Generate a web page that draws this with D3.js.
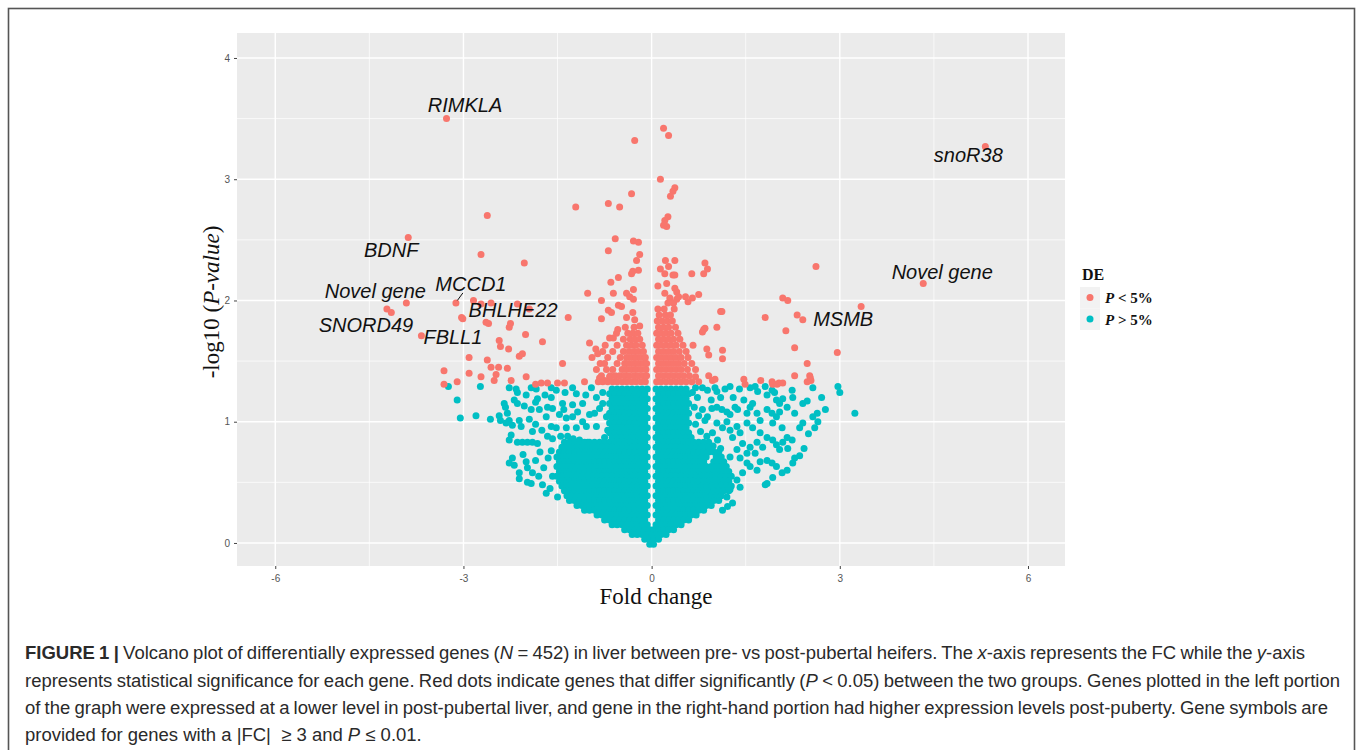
<!DOCTYPE html>
<html>
<head>
<meta charset="utf-8">
<script src="https://cdn.jsdelivr.net/npm/d3@7/dist/d3.min.js"></script>
<style>
  body { margin: 0; background: #fff; }
  svg { display: block; }
</style>
</head>
<body>
<svg id="chart" width="1357" height="750"></svg>
<script>
// ---- data (fold change, -log10 p) ----
const xTicks = [-6, -3, 0, 3, 6];
const yTicks = [0, 1, 2, 3, 4];
const legendLabels = ['P < 5%', 'P > 5%'];

// labelled genes
const geneNames = ['RIMKLA', 'snoR38', 'BDNF', 'Novel gene', 'SNORD49', 'FBLL1', 'MCCD1', 'BHLHE22', 'Novel gene', 'MSMB'];
const geneFC    = [-3.27, 5.32, -3.88, -3.91, -4.22, -3.67, -3.12, -3.03, 4.33, 3.34];
const geneLogP  = [3.50, 3.27, 2.52, 1.98, 1.93, 1.71, 1.98, 1.86, 2.14, 1.95];

// significant genes, scattered
const redSparse = [
  [0.19,3.42],[0.27,3.36],[-0.27,3.32],[0.14,3.00],[0.37,2.93],[0.34,2.90],[0.30,2.86],[-1.21,2.77],[-0.69,2.80],[-0.51,2.77],
  [-0.32,2.88],[0.26,2.69],[0.21,2.66],[0.24,2.61],[0.19,2.62],[-0.58,2.51],[-0.29,2.49],[-0.21,2.48],[-0.69,2.41],[-0.19,2.38],
  [-0.24,2.33],[0.22,2.33],[0.37,2.33],[0.27,2.28],[0.14,2.26],[-0.21,2.25],[-0.32,2.22],[-0.30,2.24],[0.21,2.22],[0.34,2.21],
  [0.37,2.21],[0.64,2.22],[-0.53,2.19],[-0.65,2.15],[-1.02,2.06],[-0.61,2.06],[-0.80,2.00],[-0.40,2.06],[-0.35,2.03],[-0.29,2.09],
  [-0.29,2.01],[0.10,2.12],[0.24,2.14],[0.21,2.06],[0.37,2.10],[0.40,2.07],[0.29,2.02],[0.26,1.98],[0.35,1.98],[0.40,2.01],
  [0.43,2.03],[0.54,2.03],[0.58,1.99],[0.65,2.02],[0.75,2.05],[1.10,1.91],[-1.33,1.86],[-0.80,1.85],[-0.69,1.92],[-0.64,1.90],
  [-0.53,1.96],[-0.48,1.95],[-0.40,1.86],[-0.30,1.90],[-0.27,1.84],[-0.19,1.79],[-0.54,1.76],[0.85,1.77],[0.81,1.74],[-0.99,1.65],
  [-1.74,1.66],[-0.89,1.60],[-0.86,1.56],[-0.78,1.58],[-0.67,1.69],[-0.61,1.69],[-1.42,1.48],[-1.07,1.33],[-0.56,1.73],
  [-2.62,2.70],[-2.72,2.38],[-2.03,2.31],[-2.01,1.72],[-2.27,1.78],[-2.25,1.81],[-2.60,1.81],[-2.64,1.82],[-2.43,1.67],[-2.41,1.62],
  [-2.28,1.60],[-2.91,1.53],[-2.62,1.51],[-2.56,1.45],[-2.44,1.45],[-2.30,1.44],[-2.11,1.54],[-2.06,1.56],[-2.91,1.40],[-3.31,1.42],
  [-2.84,2.00],[-2.72,1.97],[-2.56,1.98],[-2.14,1.97],[-1.95,1.93],[-3.31,1.31],[-3.10,1.33],[-2.72,1.37],[-2.51,1.34],[-2.48,1.39],
  [-2.24,1.34],[-2.00,1.37],[-1.85,1.31],[-1.76,1.32],[-1.66,1.32],[-1.50,1.32],[-1.39,1.32],[-0.83,1.36],[-0.75,1.34],[-0.67,1.37],
  [-4.15,1.90],[-3.01,1.85],
  [2.62,2.28],[2.09,2.02],[2.17,2.00],[1.81,1.86],[2.32,1.88],[2.41,1.84],[2.14,1.75],[2.28,1.61],[2.96,1.57],[2.48,1.48],
  [2.52,1.38],[2.54,1.34],[2.48,1.33],[2.28,1.38],[1.92,1.33],[2.03,1.32],[2.09,1.32],[1.74,1.34],[1.47,1.35],[0.91,1.38],
  [1.01,1.35],[0.85,2.31],[0.83,2.22],[0.89,2.26],[1.12,1.91],[1.04,1.78],[0.83,1.76],[0.88,1.60],[0.91,1.55],[1.13,1.59],
  [1.13,1.52],[0.70,1.37],[0.97,1.34],[1.49,1.31],[1.93,1.31],[2.00,1.31],[2.53,1.36]
];

// significant genes, dense clusters near FC = 0 (row: -log10 p, then fold changes)
const redRowsLeft = [
  [1.33,-0.85,-0.78,-0.70,-0.62,-0.55,-0.47,-0.40,-0.32,-0.25,-0.17,-0.10],
  [1.38,-0.80,-0.66,-0.58,-0.51,-0.43,-0.36,-0.28,-0.21,-0.13,-0.08],
  [1.43,-0.88,-0.72,-0.62,-0.47,-0.40,-0.32,-0.25,-0.17,-0.09],
  [1.48,-0.82,-0.75,-0.55,-0.43,-0.36,-0.28,-0.21,-0.13,-0.08],
  [1.53,-0.95,-0.70,-0.50,-0.40,-0.32,-0.25,-0.17,-0.10],
  [1.58,-0.62,-0.45,-0.36,-0.28,-0.21,-0.13],
  [1.63,-0.74,-0.55,-0.40,-0.32,-0.25,-0.15],
  [1.68,-0.45,-0.34,-0.27,-0.19],
  [1.73,-0.38,-0.30,-0.22],
  [1.78,-0.42,-0.28]
];
const redRowsRight = [
  [1.33,0.08,0.15,0.23,0.31,0.39,0.47,0.55,0.64,0.75],
  [1.38,0.11,0.19,0.27,0.35,0.43,0.51,0.60],
  [1.43,0.08,0.15,0.23,0.31,0.39,0.47,0.57,0.70],
  [1.48,0.11,0.19,0.27,0.35,0.43,0.52,0.64],
  [1.53,0.08,0.15,0.23,0.31,0.39,0.47,0.58],
  [1.58,0.11,0.19,0.27,0.35,0.44,0.55],
  [1.63,0.08,0.15,0.23,0.31,0.39,0.50,0.66],
  [1.68,0.11,0.19,0.27,0.35,0.45],
  [1.73,0.08,0.15,0.23,0.31,0.42],
  [1.78,0.11,0.19,0.27,0.38],
  [1.83,0.09,0.17,0.25,0.33],
  [1.88,0.12,0.22,0.30],
  [1.93,0.10,0.20,0.36]
];

// non-significant genes, scattered
const tealSparse = [
  [-3.24,1.29],[-3.10,1.18],[-3.05,1.03],[-2.80,1.05],[-2.57,1.02],[-2.73,1.29],[-2.43,1.05],[-2.41,1.01],[-2.35,1.15],[-2.33,1.12],
  [-2.27,1.28],[-2.16,1.27],[-2.14,1.24],[-2.19,1.18],[-2.14,1.15],[-2.03,1.13],[-1.92,1.10],[-2.30,1.07],[-2.27,1.01],[-2.32,0.99],
  [-2.22,0.97],[-2.11,1.01],[-2.08,0.96],[-2.24,0.89],[-2.27,0.85],[-2.14,0.83],[-2.06,0.83],[-1.98,0.83],[-1.90,0.83],[-1.82,0.82],
  [-2.22,0.70],[-2.27,0.66],[-2.19,0.64],[-2.00,0.67],[-1.98,0.62],[-2.11,0.58],[-2.11,0.53],[-1.98,0.50],[-1.92,0.49],[-1.90,0.58],
  [-1.74,0.48],[-1.68,0.41],[-1.50,0.38],[-1.85,1.16],[-1.82,1.19],[-1.79,1.10],[-1.66,1.12],[-1.58,1.11],[-1.68,1.04],[-1.92,1.28],
  [-1.84,1.27],[-1.60,1.28],[-1.52,1.26],[-1.26,1.28],[-0.96,1.28],[-1.60,1.20],[-1.42,1.15],[-1.26,1.14],[-1.10,1.15],[-1.47,1.06],
  [-1.36,1.03],[-1.26,1.04],[-1.60,0.96],[-1.52,0.95],[-1.36,0.95],[-1.20,0.95],[-1.04,0.96],[-0.88,0.96],[-0.99,1.06],[-0.91,1.07],
  [-0.83,1.11],[-0.78,1.15],[-0.88,1.20],[-0.78,1.24],[-0.72,1.04],[-0.70,0.93],[-0.75,0.87],[-1.15,0.85],[-1.02,0.83],[-0.94,0.79],
  [-1.04,0.71],[-0.96,0.74],[-0.88,0.64],
  [-1.95,1.02],[-1.85,0.98],[-1.75,0.93],[-1.66,0.88],[-1.90,0.92],[-1.58,0.86],[-1.45,0.88],[-1.34,0.88],[-1.25,0.86],[-1.40,1.10],
  [-1.18,1.08],[-1.10,1.00],[-1.05,1.22],[-1.20,1.23],[-1.38,1.24],[-1.70,1.22],[-2.00,1.22],
  [-1.80,0.55],[-1.72,0.62],[-1.65,0.70],[-1.60,0.76],[-1.85,0.68],[-1.78,0.75],[-2.05,0.73],[-1.58,0.55],[-1.62,0.45],
  [0.65,1.24],[0.73,1.20],[0.81,1.28],[0.89,1.26],[1.01,1.28],[1.04,1.25],[1.25,1.29],[0.81,1.10],[0.96,1.11],[1.04,0.99],
  [0.85,1.01],[0.89,1.04],[1.12,1.10],[1.20,1.08],[1.25,1.06],[1.33,1.12],[1.37,1.10],[1.52,1.07],[1.57,1.12],[1.61,1.15],
  [1.68,1.07],[1.73,1.01],[1.57,1.28],[1.65,1.29],[1.69,1.25],[1.81,1.29],[1.84,1.22],[1.92,1.26],[1.96,1.24],[1.99,1.18],
  [2.04,1.15],[2.09,1.19],[2.16,1.12],[2.24,1.26],[2.25,1.20],[2.41,1.15],[2.48,1.17],[2.64,1.07],[2.57,1.04],[2.28,1.07],
  [2.41,0.99],[2.36,0.95],[2.60,0.95],[2.97,1.29],[3.00,1.24],[3.24,1.07],[1.84,1.10],[1.92,1.07],[1.99,1.04],[2.04,1.08],
  [1.93,0.99],[2.08,0.95],[2.16,0.87],[2.24,0.85],[2.09,0.83],[2.17,0.78],[2.04,0.77],[2.28,0.70],[2.25,0.66],[2.16,0.60],
  [2.08,0.58],[1.93,0.54],[1.81,0.48],[1.84,0.49],[1.68,0.60],[1.57,0.63],[1.73,0.67],[1.65,0.74],[1.52,0.74],[1.84,0.68],
  [1.92,0.66],[1.99,0.63],[1.29,0.87],[1.41,0.91],[1.45,0.82],[1.36,0.77],[1.25,0.71],[1.41,0.70],[1.52,0.66],[1.45,0.58],
  [1.36,0.52],[1.41,0.46],[1.25,0.44],[1.20,0.38],[1.29,0.33],[1.21,0.30],[1.13,0.27],[1.04,1.12],[1.13,0.95],[1.25,0.93],
  [1.36,0.96],[0.97,0.91],[1.52,0.99],[1.61,0.95],[1.73,0.91],[1.84,0.87],[1.93,0.85],[1.99,0.81],[1.77,0.79],[1.68,0.83],
  [1.57,0.79],[2.71,1.20],[2.77,1.10],[2.65,1.00],[2.57,1.28],[2.50,0.90],[2.43,0.78],[2.36,0.72],
  [0.68,1.12],[0.75,1.05],[0.70,0.98],[0.78,0.92],[0.88,0.88],[0.95,1.18],[0.70,1.28],[1.10,1.20],[1.17,1.27],[1.40,1.27],
  [1.47,1.18],[1.30,1.20],[1.20,1.00],[1.05,0.85],[0.98,0.80],[1.10,0.78]
];

// non-significant genes, dense V-shaped core (row: -log10 p, then fold changes)
const tealRows = [
  [1.27,-0.63,-0.55,-0.47,-0.39,-0.31,-0.23,-0.15,-0.07,0.07,0.15,0.23,0.31,0.39,0.47,0.55],
  [1.23,-0.67,-0.59,-0.51,-0.43,-0.35,-0.27,-0.19,-0.11,0.11,0.19,0.27,0.35,0.43,0.51,0.59],
  [1.19,-0.63,-0.55,-0.47,-0.39,-0.31,-0.23,-0.15,-0.07,0.07,0.15,0.23,0.31,0.39,0.47,0.55],
  [1.15,-0.67,-0.59,-0.51,-0.43,-0.35,-0.27,-0.19,-0.11,0.11,0.19,0.27,0.35,0.43,0.51,0.59],
  [1.11,-0.63,-0.55,-0.47,-0.39,-0.31,-0.23,-0.15,-0.07,0.07,0.15,0.23,0.31,0.39,0.47,0.55],
  [1.07,-0.67,-0.59,-0.51,-0.43,-0.35,-0.27,-0.19,-0.11,0.11,0.19,0.27,0.35,0.43,0.51,0.59],
  [1.03,-0.63,-0.55,-0.47,-0.39,-0.31,-0.23,-0.15,-0.07,0.07,0.15,0.23,0.31,0.39,0.47,0.55],
  [0.99,-0.67,-0.59,-0.51,-0.43,-0.35,-0.27,-0.19,-0.11,0.11,0.19,0.27,0.35,0.43,0.51,0.59],
  [0.95,-0.63,-0.55,-0.47,-0.39,-0.31,-0.23,-0.15,-0.07,0.07,0.15,0.23,0.31,0.39,0.47,0.55],
  [0.91,-0.67,-0.59,-0.51,-0.43,-0.35,-0.27,-0.19,-0.11,0.11,0.19,0.27,0.35,0.43,0.51,0.59],
  [0.87,-0.63,-0.55,-0.47,-0.39,-0.31,-0.23,-0.15,-0.07,0.07,0.15,0.23,0.31,0.39,0.47,0.55,0.63],
  [0.83,-1.39,-1.31,-1.23,-1.15,-1.07,-0.99,-0.91,-0.83,-0.75,-0.67,-0.59,-0.51,-0.43,-0.35,-0.27,-0.19,-0.11,
        0.11,0.19,0.27,0.35,0.43,0.51,0.59,0.67,0.75,0.83,0.91],
  [0.79,-1.43,-1.35,-1.27,-1.19,-1.11,-1.03,-0.95,-0.87,-0.79,-0.71,-0.63,-0.55,-0.47,-0.39,-0.31,-0.23,-0.15,-0.07,
        0.07,0.15,0.23,0.31,0.39,0.47,0.55,0.63,0.71,0.79,0.87,0.95],
  [0.75,-1.47,-1.39,-1.31,-1.23,-1.15,-1.07,-0.99,-0.91,-0.83,-0.75,-0.67,-0.59,-0.51,-0.43,-0.35,-0.27,-0.19,-0.11,
        0.11,0.19,0.27,0.35,0.43,0.51,0.59,0.67,0.75,0.83,0.91,0.99,1.07],
  [0.71,-1.51,-1.43,-1.35,-1.27,-1.19,-1.11,-1.03,-0.95,-0.87,-0.79,-0.71,-0.63,-0.55,-0.47,-0.39,-0.31,-0.23,-0.15,-0.07,
        0.07,0.15,0.23,0.31,0.39,0.47,0.55,0.63,0.71,0.79,0.87,1.03,1.11],
  [0.67,-1.47,-1.39,-1.31,-1.23,-1.15,-1.07,-0.99,-0.91,-0.83,-0.75,-0.67,-0.59,-0.51,-0.43,-0.35,-0.27,-0.19,-0.11,
        0.11,0.19,0.27,0.35,0.43,0.51,0.59,0.67,0.75,0.83,0.99,1.07,1.15],
  [0.63,-1.51,-1.43,-1.35,-1.27,-1.19,-1.11,-1.03,-0.95,-0.87,-0.79,-0.71,-0.63,-0.55,-0.47,-0.39,-0.31,-0.23,-0.15,-0.07,
        0.07,0.15,0.23,0.31,0.39,0.47,0.55,0.63,0.71,0.79,0.87,0.95,1.03,1.11,1.19],
  [0.59,-1.47,-1.39,-1.31,-1.23,-1.15,-1.07,-0.99,-0.91,-0.83,-0.75,-0.67,-0.59,-0.51,-0.43,-0.35,-0.27,-0.19,-0.11,
        0.11,0.19,0.27,0.35,0.43,0.51,0.59,0.67,0.75,0.83,0.91,0.99,1.07,1.15,1.23],
  [0.55,-1.51,-1.43,-1.35,-1.27,-1.19,-1.11,-1.03,-0.95,-0.87,-0.79,-0.71,-0.63,-0.55,-0.47,-0.39,-0.31,-0.23,-0.15,-0.07,
        0.07,0.15,0.23,0.31,0.39,0.47,0.55,0.63,0.71,0.79,0.87,0.95,1.03,1.11,1.19,1.27],
  [0.51,-1.47,-1.39,-1.31,-1.23,-1.15,-1.07,-0.99,-0.91,-0.83,-0.75,-0.67,-0.59,-0.51,-0.43,-0.35,-0.27,-0.19,-0.11,
        0.11,0.19,0.27,0.35,0.43,0.51,0.59,0.67,0.75,0.83,0.91,0.99,1.07,1.15,1.23],
  [0.47,-1.43,-1.35,-1.27,-1.19,-1.11,-1.03,-0.95,-0.87,-0.79,-0.71,-0.63,-0.55,-0.47,-0.39,-0.31,-0.23,-0.15,-0.07,
        0.07,0.15,0.23,0.31,0.39,0.47,0.55,0.63,0.71,0.79,0.87,0.95,1.03,1.11,1.19,1.27],
  [0.43,-1.39,-1.31,-1.23,-1.15,-1.07,-0.99,-0.91,-0.83,-0.75,-0.67,-0.59,-0.51,-0.43,-0.35,-0.27,-0.19,-0.11,
        0.11,0.19,0.27,0.35,0.43,0.51,0.59,0.67,0.75,0.83,0.91,0.99,1.07,1.15,1.23],
  [0.39,-1.35,-1.27,-1.19,-1.11,-1.03,-0.95,-0.87,-0.79,-0.71,-0.63,-0.55,-0.47,-0.39,-0.31,-0.23,-0.15,-0.07,
        0.07,0.15,0.23,0.31,0.39,0.47,0.55,0.63,0.71,0.79,0.87,0.95,1.03,1.11],
  [0.35,-1.31,-1.23,-1.15,-1.07,-0.99,-0.91,-0.83,-0.75,-0.67,-0.59,-0.51,-0.43,-0.35,-0.27,-0.19,-0.11,
        0.11,0.19,0.27,0.35,0.43,0.51,0.59,0.67,0.75,0.83,0.91,0.99,1.07],
  [0.31,-1.19,-1.11,-1.03,-0.95,-0.87,-0.79,-0.71,-0.63,-0.55,-0.47,-0.39,-0.31,-0.23,-0.15,-0.07,
        0.07,0.15,0.23,0.31,0.39,0.47,0.55,0.63,0.71,0.79,0.87,0.95],
  [0.27,-1.07,-0.99,-0.91,-0.83,-0.75,-0.67,-0.59,-0.51,-0.43,-0.35,-0.27,-0.19,-0.11,
        0.11,0.19,0.27,0.35,0.43,0.51,0.59,0.67,0.75,0.83],
  [0.23,-0.87,-0.79,-0.71,-0.63,-0.55,-0.47,-0.39,-0.31,-0.23,-0.15,-0.07,0.07,0.15,0.23,0.31,0.39,0.47,0.55,0.63,0.71],
  [0.19,-0.75,-0.67,-0.59,-0.51,-0.43,-0.35,-0.27,-0.19,-0.11,0.11,0.19,0.27,0.35,0.43,0.51,0.59],
  [0.15,-0.63,-0.55,-0.47,-0.39,-0.31,-0.23,-0.15,-0.07,0.07,0.15,0.23,0.31,0.39,0.47],
  [0.11,-0.43,-0.35,-0.27,-0.19,-0.11,-0.03,0.03,0.11,0.19,0.27,0.35],
  [0.07,-0.31,-0.23,-0.15,-0.07,0.00,0.07,0.15,0.23],
  [0.03,-0.11,-0.03,0.03,0.11],
  [-0.01,-0.03,0.03]
];

// ---- layout ----
const panel = { left: 237, right: 1065, top: 33, bottom: 566 };
const RED = '#F8766D', TEAL = '#00BFC4';
const R = 3.5;
// pixel offsets of each gene label (centre, baseline) from its point
const labelShift = [[18.5,-6.5],[-17,15.5],[-17,20],[-31,-5],[-21,23],[31.5,8],[15,-12],[51.5,0],[19,-4.5],[-18,19.5]];

const svg = d3.select('#chart');

const x = d3.scaleLinear().domain([-6.61, 6.59]).range([panel.left, panel.right]);
const y = d3.scaleLinear().domain([-0.19, 4.206]).range([panel.bottom, panel.top]);

// frame round the whole figure
svg.append('rect')
  .attr('x', 8.5).attr('y', 8.5).attr('width', 1346).attr('height', 780)
  .attr('fill', 'none').attr('stroke', '#555').attr('stroke-width', 1.6);

// panel + grid
svg.append('rect')
  .attr('x', panel.left).attr('y', panel.top)
  .attr('width', panel.right - panel.left).attr('height', panel.bottom - panel.top)
  .attr('fill', '#EBEBEB');

const grid = svg.append('g');
const minorX = [-4.5, -1.5, 1.5, 4.5], minorY = [0.5, 1.5, 2.5, 3.5];
grid.selectAll('.mx').data(minorX).join('line')
  .attr('x1', d => x(d)).attr('x2', d => x(d)).attr('y1', panel.top).attr('y2', panel.bottom)
  .attr('stroke', '#fff').attr('stroke-width', 0.7);
grid.selectAll('.my').data(minorY).join('line')
  .attr('y1', d => y(d)).attr('y2', d => y(d)).attr('x1', panel.left).attr('x2', panel.right)
  .attr('stroke', '#fff').attr('stroke-width', 0.7);
grid.selectAll('.Mx').data(xTicks).join('line')
  .attr('x1', d => x(d)).attr('x2', d => x(d)).attr('y1', panel.top).attr('y2', panel.bottom)
  .attr('stroke', '#fff').attr('stroke-width', 1.4);
grid.selectAll('.My').data(yTicks).join('line')
  .attr('y1', d => y(d)).attr('y2', d => y(d)).attr('x1', panel.left).attr('x2', panel.right)
  .attr('stroke', '#fff').attr('stroke-width', 1.4);

// points
const fromRows = rows => rows.flatMap(r => r.slice(1).map(v => [v, r[0]]));
const tealPts = tealSparse.concat(fromRows(tealRows));
const redPts = redSparse.concat(fromRows(redRowsLeft), fromRows(redRowsRight), geneFC.map((v, i) => [v, geneLogP[i]]));

const dots = svg.append('g');
dots.selectAll('.t').data(tealPts).join('circle')
  .attr('cx', d => x(d[0])).attr('cy', d => y(d[1])).attr('r', R).attr('fill', TEAL);
dots.selectAll('.r').data(redPts).join('circle')
  .attr('cx', d => x(d[0])).attr('cy', d => y(d[1])).attr('r', R).attr('fill', RED);

// gene labels
const labels = svg.append('g')
  .attr('font-family', '"Liberation Sans", Arial, sans-serif')
  .attr('font-style', 'italic').attr('font-size', 20).attr('fill', '#111')
  .attr('text-anchor', 'middle');
labels.selectAll('text').data(geneNames).join('text')
  .attr('x', (d, i) => x(geneFC[i]) + labelShift[i][0])
  .attr('y', (d, i) => y(geneLogP[i]) + labelShift[i][1])
  .text(d => d);
// repel segment for MCCD1
const mi = geneNames.indexOf('MCCD1');
svg.append('line')
  .attr('x1', x(geneFC[mi]) + 1.5).attr('y1', y(geneLogP[mi]) - 2.5)
  .attr('x2', x(geneFC[mi]) + 7).attr('y2', y(geneLogP[mi]) - 10)
  .attr('stroke', '#111').attr('stroke-width', 1);

// axes
const axisFont = '"Liberation Sans", Arial, sans-serif';
const gx = svg.append('g').attr('transform', `translate(0,${panel.bottom})`)
  .call(d3.axisBottom(x).tickValues(xTicks).tickFormat(d => String(d)).tickSize(3).tickPadding(6));
const gy = svg.append('g').attr('transform', `translate(${panel.left},0)`)
  .call(d3.axisLeft(y).tickValues(yTicks).tickFormat(d => String(d)).tickSize(3).tickPadding(4));
[gx, gy].forEach(g => {
  g.select('.domain').remove();
  g.selectAll('line').attr('stroke', '#444');
  g.selectAll('text').attr('fill', '#555').attr('font-size', 10).attr('font-family', axisFont);
});

// axis titles
svg.append('text')
  .attr('x', 656).attr('y', 604).attr('text-anchor', 'middle')
  .attr('font-family', '"Liberation Serif", "Times New Roman", serif').attr('font-size', 23).attr('fill', '#111')
  .text('Fold change');
const yt = svg.append('text')
  .attr('transform', 'translate(219,302) rotate(-90)').attr('text-anchor', 'middle')
  .attr('font-family', '"Liberation Serif", "Times New Roman", serif').attr('font-size', 23).attr('fill', '#111');
yt.append('tspan').text('-log10 (');
yt.append('tspan').attr('font-style', 'italic').text('P-value');
yt.append('tspan').text(')');

// legend
const lg = svg.append('g').attr('font-family', '"Liberation Serif", "Times New Roman", serif').attr('fill', '#111');
lg.append('text').attr('x', 1082).attr('y', 280).attr('font-size', 16).attr('font-weight', 'bold').text('DE');
[RED, TEAL].forEach((c, i) => {
  const top = 287 + i * 21.5;
  lg.append('rect').attr('x', 1080).attr('y', top).attr('width', 20).attr('height', 21.5).attr('fill', '#F2F2F2');
  lg.append('circle').attr('cx', 1090).attr('cy', top + 10.5).attr('r', R).attr('fill', c);
  const t = lg.append('text').attr('x', 1105).attr('y', top + 16).attr('font-size', 15).attr('font-weight', 'bold');
  t.append('tspan').attr('font-style', 'italic').text(legendLabels[i].slice(0, 1));
  t.append('tspan').text(legendLabels[i].slice(1));
});

// caption
const captionLines = [
  [['FIGURE 1 |', 'b'], [' Volcano plot of differentially expressed genes (', ''], ['N', 'i'], [' = 452) in liver between pre- vs post-pubertal heifers. The ', ''], ['x', 'i'], ['-axis represents the FC while the ', ''], ['y', 'i'], ['-axis', '']],
  [['represents statistical significance for each gene. Red dots indicate genes that differ significantly (', ''], ['P', 'i'], [' < 0.05) between the two groups. Genes plotted in the left portion', '']],
  [['of the graph were expressed at a lower level in post-pubertal liver, and gene in the right-hand portion had higher expression levels post-puberty. Gene symbols are', '']],
  [['provided for genes with a |FC|  \u2265 3 and ', ''], ['P', 'i'], [' \u2264 0.01.', '']]
];
const capBase = [659, 687, 714, 741];
const capRight = [1305, 1340, 1328, null];
const cap = svg.append('g').attr('font-family', '"Liberation Sans", Arial, sans-serif').attr('fill', '#2a2a2a');
const capTexts = captionLines.map((parts, i) => {
  const t = cap.append('text').attr('x', 25).attr('y', capBase[i]).attr('font-size', 15.5).attr('xml:space', 'preserve');
  parts.forEach(([s, st]) => {
    const ts = t.append('tspan').text(s);
    if (st === 'b') ts.attr('font-weight', 'bold');
    if (st === 'i') ts.attr('font-style', 'italic');
  });
  return t;
});
// size from the short last line, then justify the others
const lastW = capTexts[3].node().getComputedTextLength();
const fs = 15.5 * (422 - 25) / lastW;
capTexts.forEach(t => t.attr('font-size', fs));
capTexts.forEach((t, i) => {
  if (capRight[i] == null) return;
  const w = t.node().getComputedTextLength();
  const spaces = (t.text().match(/ /g) || []).length;
  t.attr('word-spacing', ((capRight[i] - 25) - w) / spaces);
});
</script>
</body>
</html>
